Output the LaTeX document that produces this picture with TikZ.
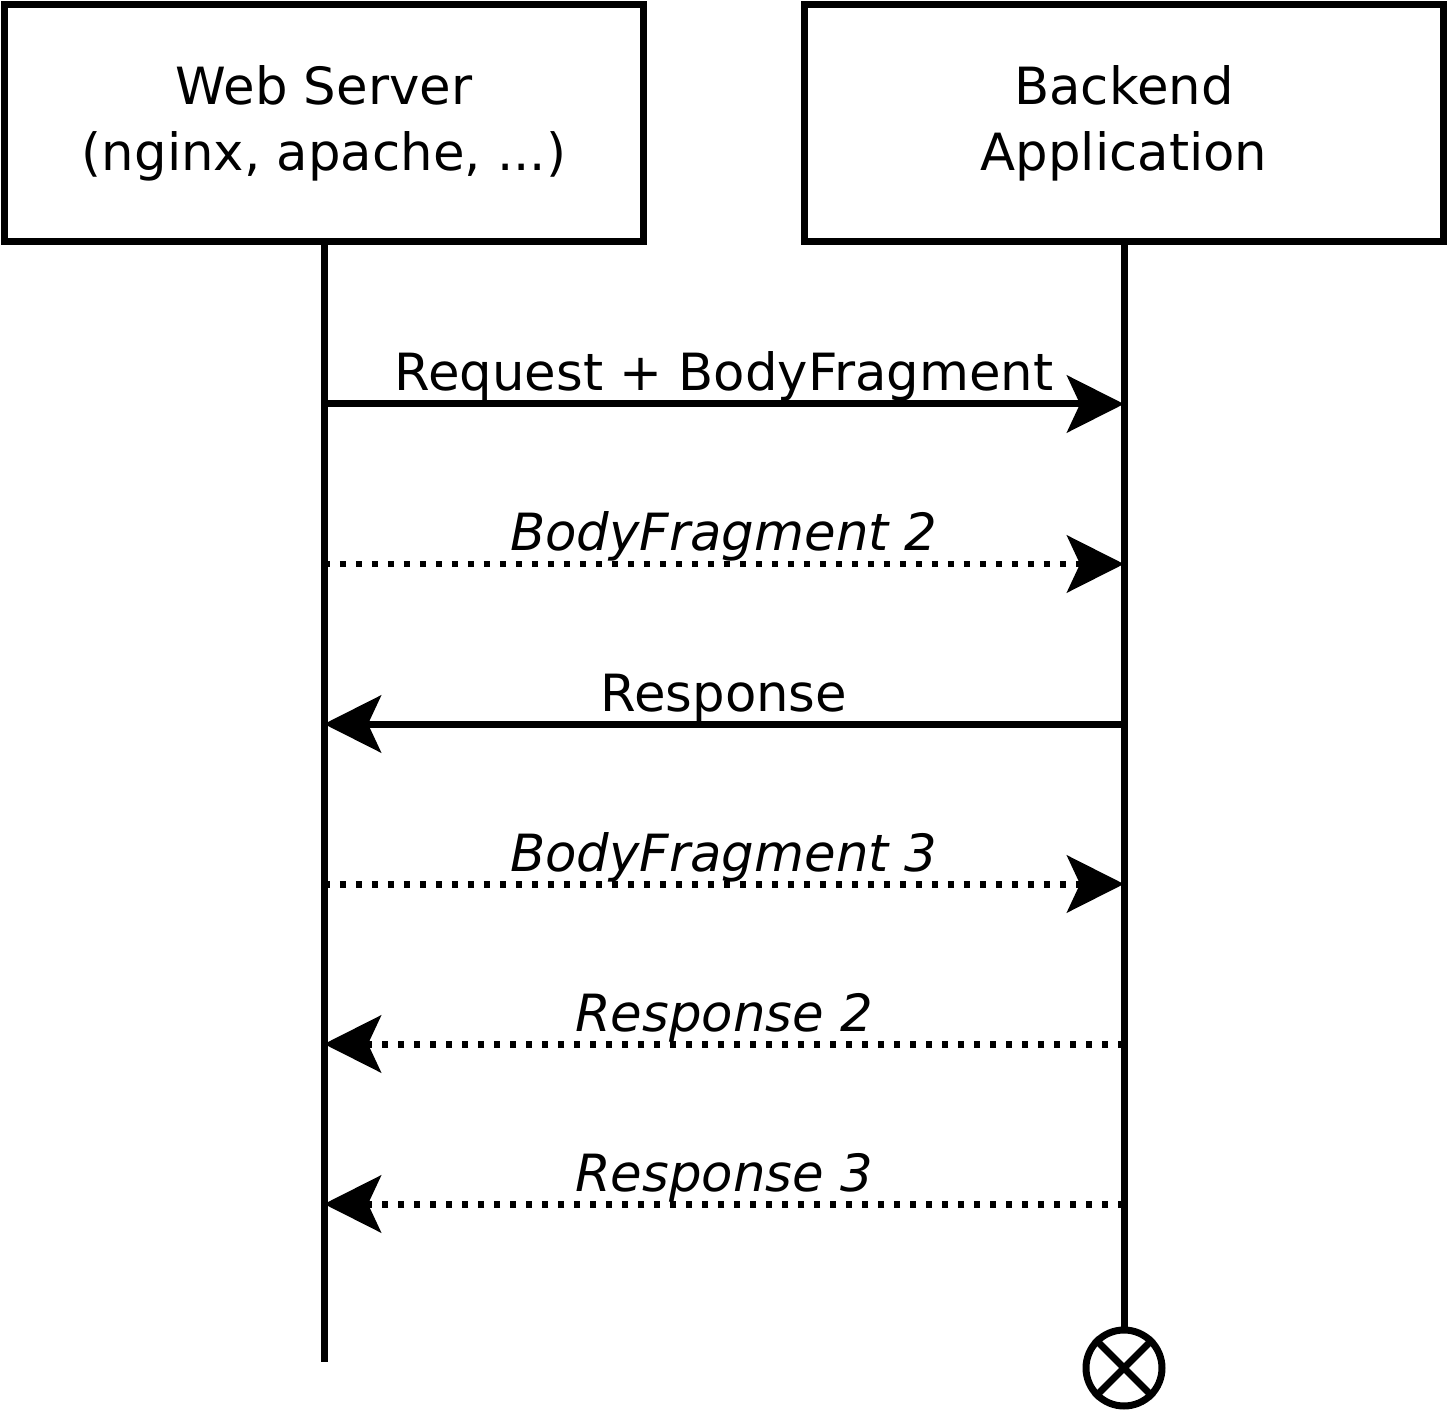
\documentclass[tikz,border=0pt]{standalone}
\usepackage{fontspec}
\setmainfont{DejaVu Sans}
\usetikzlibrary{arrows.meta, positioning}

\tikzset{
  box/.style={draw, line width=0.14cm, minimum width=12.8cm, minimum height=4.76cm, align=center, inner sep=0pt},
  life/.style={line width=0.14cm},
  msg/.style={line width=0.14cm, -{Stealth[length=1.14cm, width=1.14cm, inset=0.26cm]}},
  async/.style={msg, dash pattern=on 0.12cm off 0.2cm},
  msglabel/.style={anchor=base, inner sep=0pt},
}

\begin{document}
\begin{tikzpicture}[x=0.02cm, y=-0.02cm, font=\fontsize{29.2pt}{37.6pt}\selectfont]
    \useasboundingbox (0,0) rectangle (1448,1412);
    % Participants
    \node[box] (ws) at (324,123) {Web Server\\(nginx, apache, ...)};
    \node[box] (ba) at (1124,123) {Backend\\Application};
    % Lifelines
    \coordinate (ws-end) at (324,1362);
    \node[circle, draw, line width=0.14cm, minimum size=1.52cm, inner sep=0pt] (ba-end) at (1124,1368) {};
    \draw[life] (ws.south) -- (ws-end);
    \draw[life] (ba.south) -- (ba-end.north);
    \draw[life] (ba-end.north west) -- (ba-end.south east);
    \draw[life] (ba-end.north east) -- (ba-end.south west);
    % Message points
    \coordinate (ws1) at (324,404);  \coordinate (ba1) at (1124,404);
    \coordinate (ws2) at (324,564);  \coordinate (ba2) at (1124,564);
    \coordinate (ws3) at (324,724);  \coordinate (ba3) at (1124,724);
    \coordinate (ws4) at (324,884);  \coordinate (ba4) at (1124,884);
    \coordinate (ws5) at (324,1044); \coordinate (ba5) at (1124,1044);
    \coordinate (ws6) at (324,1204); \coordinate (ba6) at (1124,1204);
    % Messages
    \draw[msg] (ws1) -- (ba1);
    \node[msglabel] (m1) at (724,391) {Request + BodyFragment};
    \draw[async] (ws2) -- (ba2);
    \node[msglabel] (m2) at (724,551) {\itshape BodyFragment 2};
    \draw[msg] (ba3) -- (ws3);
    \node[msglabel] (m3) at (724,711) {Response};
    \draw[async] (ws4) -- (ba4);
    \node[msglabel] (m4) at (724,871) {\itshape BodyFragment 3};
    \draw[async] (ba5) -- (ws5);
    \node[msglabel] (m5) at (724,1031) {\itshape Response 2};
    \draw[async] (ba6) -- (ws6);
    \node[msglabel] (m6) at (724,1191) {\itshape Response 3};
\end{tikzpicture}
\end{document}
